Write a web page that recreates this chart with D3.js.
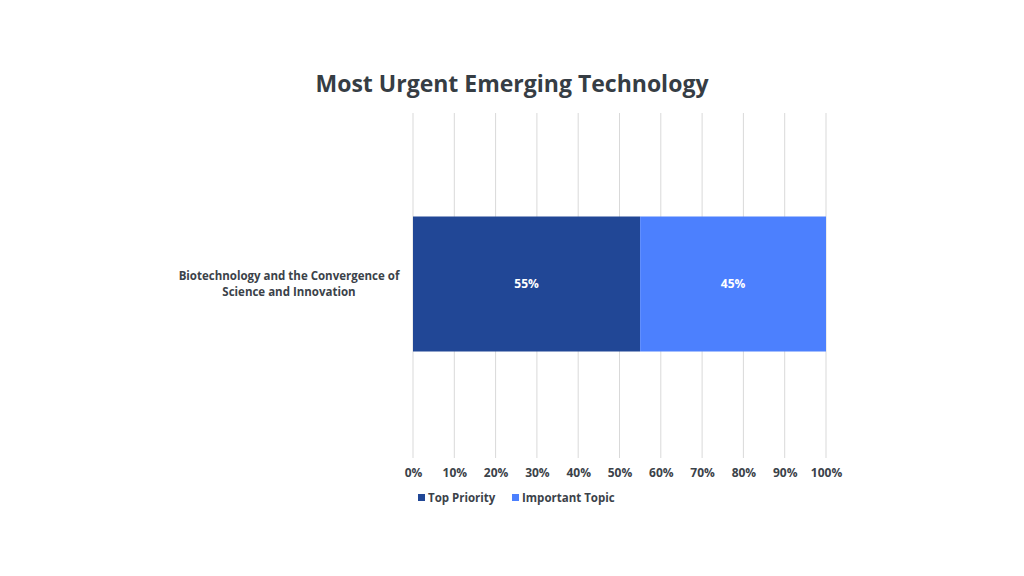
<!DOCTYPE html>
<html>
<head>
<meta charset="utf-8">
<script src="https://cdn.jsdelivr.net/npm/d3@7"></script>
<style>
  body { margin: 0; background: #fff; }
  svg text { font-family: "Open Sans", "Noto Sans", sans-serif; fill: #3b4249; }
</style>
</head>
<body>
<div id="chart"></div>
<script>
// data
var categories = ["Biotechnology and the Convergence of\nScience and Innovation"];
var seriesNames = ["Top Priority", "Important Topic"];
var topPriority = [0.55];
var importantTopic = [0.45];
var tickValues = [0, 0.1, 0.2, 0.3, 0.4, 0.5, 0.6, 0.7, 0.8, 0.9, 1.0];
var colors = ["#214796", "#4c80fe"];

var width = 1024, height = 576;
var margin = {top: 113, right: 198, bottom: 121, left: 413};
var innerW = width - margin.left - margin.right;
var innerH = height - margin.top - margin.bottom;

var svg = d3.select("#chart").append("svg")
  .attr("width", width).attr("height", height);

var chart = svg.append("g")
  .attr("transform", "translate(" + margin.left + "," + margin.top + ")");

var x = d3.scaleLinear().domain([0, 1]).range([0, innerW]);
var y = d3.scaleBand().domain(categories).range([0, innerH]).paddingInner(0.2).paddingOuter(0.3);

// gridlines
chart.append("g").selectAll("line")
  .data(tickValues)
  .enter().append("line")
  .attr("x1", function(d) { return x(d); })
  .attr("x2", function(d) { return x(d); })
  .attr("y1", 0).attr("y2", innerH + 3)
  .attr("stroke", "#d9d9d9").attr("stroke-width", 1);

// stack the two series
var rows = categories.map(function(c, i) {
  return {cat: c, top: topPriority[i], imp: importantTopic[i]};
});
var stack = d3.stack().keys(["top", "imp"]);
var layers = stack(rows);

var barH = 135;
layers.forEach(function(layer, li) {
  var g = chart.append("g");
  g.selectAll("rect")
    .data(layer)
    .enter().append("rect")
    .attr("x", function(d) { return x(d[0]); })
    .attr("width", function(d) { return x(d[1]) - x(d[0]); })
    .attr("y", function(d) { return y(d.data.cat) + y.bandwidth() / 2 - barH / 2; })
    .attr("height", barH)
    .attr("fill", colors[li]);
  g.selectAll("text")
    .data(layer)
    .enter().append("text")
    .attr("x", function(d) { return (x(d[0]) + x(d[1])) / 2; })
    .attr("y", function(d) { return y(d.data.cat) + y.bandwidth() / 2; })
    .attr("dy", "0.35em")
    .attr("text-anchor", "middle")
    .style("fill", "#ffffff")
    .style("font-size", "12px")
    .style("font-weight", "bold")
    .text(function(d) { return Math.round((d[1] - d[0]) * 100) + "%"; });
});

// x axis labels
var xAxis = d3.axisBottom(x).tickValues(tickValues)
  .tickFormat(d3.format(".0%")).tickSize(0).tickPadding(13);
var ax = chart.append("g")
  .attr("transform", "translate(0," + innerH + ")")
  .call(xAxis);
ax.select(".domain").remove();
ax.selectAll("text")
  .style("font-size", "12px")
  .style("font-weight", "bold")
  .style("fill", "#3b4249")
  .style("font-family", "'Open Sans', sans-serif");

// category label (two lines, centred)
categories.forEach(function(c) {
  var lines = c.split("\n");
  var t = svg.append("text")
    .attr("x", 289)
    .attr("y", margin.top + y(c) + y.bandwidth() / 2 - 4)
    .attr("text-anchor", "middle")
    .style("font-size", "11.5px")
    .style("font-weight", "bold");
  lines.forEach(function(l, i) {
    t.append("tspan").attr("x", 289).attr("dy", i === 0 ? 0 : 16).text(l);
  });
});

// title
svg.append("text")
  .attr("x", 512).attr("y", 92)
  .attr("text-anchor", "middle")
  .style("font-size", "23px")
  .style("font-weight", "bold")
  .style("fill", "#363d44")
  .text("Most Urgent Emerging Technology");

// legend
var legendX = [418, 512];
var legend = svg.append("g");
seriesNames.forEach(function(name, i) {
  legend.append("rect")
    .attr("x", legendX[i]).attr("y", 494)
    .attr("width", 7).attr("height", 7)
    .attr("fill", colors[i]);
  legend.append("text")
    .attr("x", legendX[i] + 10).attr("y", 502)
    .style("font-size", "11.5px")
    .style("font-weight", "bold")
    .text(name);
});
</script>
</body>
</html>
